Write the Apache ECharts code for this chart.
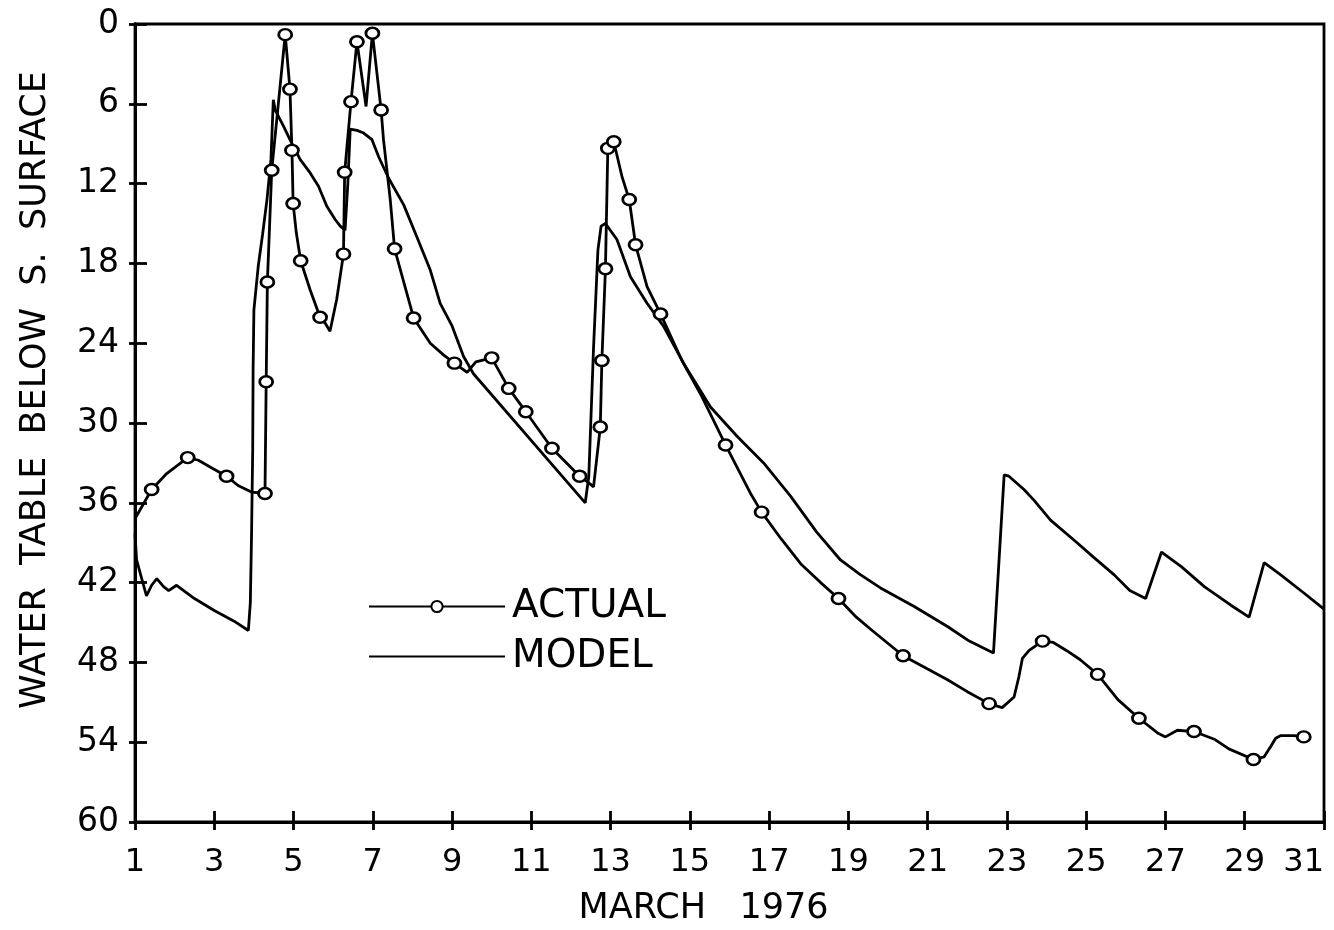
<!DOCTYPE html>
<html>
<head>
<meta charset="utf-8">
<script src="https://cdn.jsdelivr.net/npm/echarts@6/dist/echarts.min.js"></script>
<style>
  html, body { margin: 0; padding: 0; background: #fff; overflow: hidden; width: 1334px; height: 930px; }
  #chart { width: 1334px; height: 930px; display: block; }
</style>
</head>
<body>
<div id="chart"></div>
<script>
// Model: simulated water-table depth (inches below soil surface), by day of March 1976
const modelDays = [
  1.00, 1.04, 1.15, 1.29, 1.42, 1.55, 1.72, 1.85, 2.05, 2.50, 3.00, 3.50, 3.86,
  3.91, 3.94, 3.97, 3.98, 4.00, 4.11, 4.22, 4.33, 4.43, 4.49, 4.54, 4.75, 4.91,
  5.17, 5.42, 5.63, 5.84, 6.05, 6.18, 6.30, 6.37, 6.43, 6.60, 6.77, 6.98, 7.15,
  7.40, 7.78, 8.11, 8.45, 8.70, 9.00, 9.29, 9.54, 12.36, 12.45, 12.57, 12.68,
  12.76, 12.87, 13.16, 13.50, 13.92, 14.33, 14.84, 15.52, 16.19, 16.86, 17.54,
  18.20, 18.80, 19.30, 19.81, 20.66, 21.50, 22.05, 22.66, 22.93, 23.05, 23.43,
  23.68, 24.10, 24.77, 25.19, 25.70, 26.10, 26.50, 26.90, 27.40, 27.98, 28.65,
  29.11, 29.49, 29.90, 30.50, 31.00
];
const modelDepth = [
  38.3, 40.3, 41.5, 43.0, 42.2, 41.7, 42.3, 42.6, 42.2, 43.2, 44.1, 44.9, 45.6,
  43.5, 38.5, 32.0, 26.0, 21.5, 18.2, 15.8, 13.2, 10.2, 5.7, 6.5, 7.7, 8.7,
  10.2, 11.2, 12.2, 13.7, 14.7, 15.2, 15.5, 12.0, 7.9, 8.0, 8.2, 8.7, 10.0,
  11.6, 13.6, 16.0, 18.5, 21.0, 22.7, 25.0, 26.3, 36.0, 34.0, 24.3, 17.0,
  15.2, 15.0, 16.2, 19.0, 21.0, 22.7, 25.5, 28.8, 31.0, 33.0, 35.5,
  38.2, 40.3, 41.4, 42.4, 43.8, 45.3, 46.4, 47.3, 33.9, 34.0, 35.0,
  35.8, 37.3, 39.0, 40.1, 41.4, 42.6, 43.2, 39.7, 40.8, 42.3, 43.7,
  44.6, 40.5, 41.4, 42.8, 44.0
];

// Actual: observed water-table depth; readings flagged 1 are drawn with a circle
const actualDays = [
  1.00, 1.42, 1.80, 2.33, 2.60, 2.95, 3.31, 3.60, 3.95, 4.28, 4.31, 4.34, 4.45,
  4.79, 4.91, 4.96, 4.99, 5.07, 5.18, 5.42, 5.67, 5.80, 5.92, 6.09, 6.26, 6.29,
  6.45, 6.60, 6.83, 6.99, 7.21, 7.27, 7.44, 7.55, 8.03, 8.45, 8.79, 9.06, 9.38,
  9.60, 10.00, 10.43, 10.86, 11.52, 12.22, 12.45, 12.57, 12.74, 12.78, 12.87,
  12.93, 13.08, 13.29, 13.47, 13.63, 13.92, 14.26, 14.80, 15.30, 15.90, 16.55,
  16.81, 17.30, 17.80, 18.30, 18.75, 19.20, 19.60, 20.38, 21.00, 21.50, 22.00,
  22.55, 22.88, 23.18, 23.30, 23.39, 23.56, 23.90, 24.17, 24.50, 24.85, 25.29,
  25.80, 26.33, 26.80, 27.00, 27.30, 27.72, 28.25, 28.60, 29.22, 29.49, 29.66,
  29.78, 29.91, 30.25, 30.49
];
const actualDepth = [
  37.2, 35.0, 33.8, 32.6, 32.8, 33.4, 34.0, 34.7, 35.2, 35.3, 26.9, 19.4, 11.0,
  0.8, 4.9, 9.5, 13.5, 15.7, 17.8, 20.0, 22.05, 22.5, 23.1, 20.7, 17.3, 11.15,
  5.84, 1.33, 6.2, 0.7, 6.47, 8.7, 13.2, 16.9, 22.1, 24.0, 24.9, 25.5, 26.2,
  25.4, 25.1, 27.4, 29.15, 31.9, 34.0, 34.5, 34.8, 30.3, 25.3, 18.4,
  9.35, 8.85, 11.5, 13.2, 16.6, 19.75, 21.8, 25.3, 28.0, 31.65, 35.4,
  36.7, 38.7, 40.6, 42.0, 43.2, 44.6, 45.6, 47.5, 48.5, 49.3, 50.2,
  51.1, 51.4, 50.6, 49.1, 47.7, 47.1, 46.4, 46.5, 47.1, 47.8, 48.9,
  50.8, 52.2, 53.3, 53.6, 53.1, 53.2, 53.8, 54.5, 55.3, 55.1, 54.3,
  53.7, 53.5, 53.5, 53.6
];
const actualMeasured = [
  0, 1, 0, 1, 0, 0, 1, 0, 0, 1, 1, 1, 1,
  1, 1, 1, 1, 0, 1, 0, 1, 0, 0, 0, 1, 1,
  1, 1, 0, 1, 1, 0, 0, 1, 1, 0, 0, 1, 0,
  0, 1, 1, 1, 1, 1, 0, 0, 1, 1, 1,
  1, 1, 0, 1, 1, 0, 1, 0, 0, 1, 0,
  1, 0, 0, 0, 1, 0, 0, 1, 0, 0, 0,
  1, 0, 0, 0, 0, 0, 1, 0, 0, 0, 1,
  0, 1, 0, 0, 0, 1, 0, 0, 1, 0, 0,
  0, 0, 0, 1
];

// Axis ticks and labels
const dayTickLabels = ['1','3','5','7','9','11','13','15','17','19','21','23','25','27','29','31'];
const depthTicks = [0, 6, 12, 18, 24, 30, 36, 42, 48, 54, 60];
const seriesNames = ['ACTUAL', 'MODEL'];
const xTitle = 'MARCH   1976';
const yTitle = 'WATER  TABLE  BELOW  S.  SURFACE';

// The day axis runs from the 1st; positions are counted in days after the 1st
const firstDay = 1;
const dayStep = 2;
const depthStep = depthTicks[1] - depthTicks[0];

const FONT = 'DejaVu Sans';
const INK = '#000';
const LINE_W = 2.8;

const modelData = modelDays.map((d, i) => [d - firstDay, modelDepth[i]]);
const actualData = actualDays.map((d, i) => (
  actualMeasured[i]
    ? { value: [d - firstDay, actualDepth[i]] }
    : { value: [d - firstDay, actualDepth[i]], symbol: 'none' }
));

const plotRect = { left: 135, right: 10, top: 24, bottom: 108, outerBoundsMode: 'none', containLabel: false };

const dayAxisBase = {
  type: 'value',
  position: 'bottom',
  min: 0,
  max: (dayTickLabels.length - 1) * dayStep,
  interval: dayStep,
  splitLine: { show: false },
  axisLine: { onZero: false, lineStyle: { color: INK, width: LINE_W } }
};
const depthAxisBase = {
  type: 'value',
  position: 'left',
  inverse: true,
  min: depthTicks[0],
  max: depthTicks[depthTicks.length - 1],
  interval: depthStep,
  splitLine: { show: false },
  axisLine: { onZero: false, lineStyle: { color: INK, width: LINE_W } }
};

const chart = echarts.init(document.getElementById('chart'), null, { renderer: 'canvas' });
chart.setOption({
  animation: false,
  backgroundColor: '#fff',
  // grid 0 carries the data and the inner ticks; grid 1 overlays it for the outer half of each tick
  grid: [
    Object.assign({ show: true, borderColor: INK, borderWidth: LINE_W, backgroundColor: 'transparent' }, plotRect),
    Object.assign({ show: false }, plotRect)
  ],
  legend: {
    orient: 'vertical',
    left: 363,
    top: 582,
    itemWidth: 136,
    itemHeight: 14,
    itemGap: 11,
    data: [
      { name: seriesNames[0] },
      { name: seriesNames[1], itemStyle: { opacity: 0 } }
    ],
    textStyle: { fontFamily: FONT, fontSize: 39, color: INK, padding: [0, 0, 0, 2] }
  },
  xAxis: [
    Object.assign({}, dayAxisBase, {
      gridIndex: 0,
      name: xTitle,
      nameLocation: 'middle',
      nameGap: 69,
      nameTextStyle: { fontFamily: FONT, fontSize: 35, color: INK, padding: [0, 52, 0, 0] },
      axisTick: { inside: true, length: 11, lineStyle: { color: INK, width: LINE_W } },
      axisLabel: {
        margin: 25,
        fontFamily: FONT, fontSize: 32, color: INK,
        alignMaxLabel: 'right',
        formatter: v => dayTickLabels[Math.round(v / dayStep)]
      }
    }),
    Object.assign({}, dayAxisBase, {
      gridIndex: 1,
      axisTick: { inside: false, length: 8, lineStyle: { color: INK, width: LINE_W } },
      axisLabel: { show: false }
    })
  ],
  yAxis: [
    Object.assign({}, depthAxisBase, {
      gridIndex: 0,
      name: yTitle,
      nameLocation: 'middle',
      nameGap: 82,
      nameRotate: 90,
      nameTextStyle: { fontFamily: FONT, fontSize: 35, color: INK, padding: [0, 0, 0, 66] },
      axisTick: { inside: true, length: 12, lineStyle: { color: INK, width: LINE_W } },
      axisLabel: { margin: 16, fontFamily: FONT, fontSize: 33, color: INK }
    }),
    Object.assign({}, depthAxisBase, {
      gridIndex: 1,
      axisTick: { inside: false, length: 6, lineStyle: { color: INK, width: LINE_W } },
      axisLabel: { show: false }
    })
  ],
  series: [
    {
      name: seriesNames[0],
      type: 'line',
      xAxisIndex: 0, yAxisIndex: 0,
      data: actualData,
      symbol: 'circle',
      symbolSize: [13, 11],
      showAllSymbol: true,
      lineStyle: { color: INK, width: LINE_W },
      itemStyle: { color: '#fff', borderColor: INK, borderWidth: 2.6 },
      z: 3
    },
    {
      name: seriesNames[1],
      type: 'line',
      xAxisIndex: 0, yAxisIndex: 0,
      data: modelData,
      symbol: 'none',
      lineStyle: { color: INK, width: LINE_W },
      itemStyle: { color: INK },
      z: 2
    }
  ]
});
</script>
</body>
</html>
